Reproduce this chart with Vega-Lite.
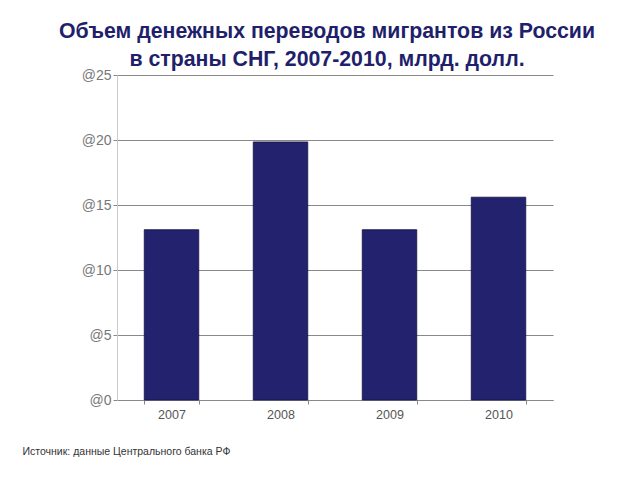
{
  "$schema": "https://vega.github.io/schema/vega-lite/v6.json",
  "width": 436,
  "height": 325,
  "autosize": {"type": "none"},
  "padding": {"left": 117, "top": 75, "right": 87, "bottom": 80},
  "background": "white",
  "title": {
    "text": ["Объем денежных переводов мигрантов из России", "в страны СНГ, 2007-2010, млрд. долл."],
    "font": "Liberation Sans",
    "fontSize": 21.3,
    "fontWeight": "bold",
    "color": "#1f1f6b",
    "lineHeight": 28,
    "anchor": "middle",
    "frame": "group",
    "dx": -8,
    "offset": -2
  },
  "data": {
    "values": [
      {"year": "2007", "value": 13.1},
      {"year": "2008", "value": 19.85},
      {"year": "2009", "value": 13.1},
      {"year": "2010", "value": 15.6}
    ]
  },
  "mark": {"type": "bar", "color": "#22226e", "stroke": "#111144", "strokeWidth": 0.8},
  "encoding": {
    "x": {
      "field": "year",
      "type": "nominal",
      "sort": null,
      "scale": {"paddingInner": 0.5, "paddingOuter": 0.25},
      "axis": {
        "title": "Источник: данные Центрального банка РФ",
        "titleFont": "Liberation Sans",
        "titleFontSize": 10.5,
        "titleFontWeight": "normal",
        "titleColor": "#333333",
        "titleAnchor": "start",
        "titleAlign": "left",
        "titleBaseline": "bottom",
        "titleX": -95,
        "titleY": 56,
        "labelAngle": 0,
        "labelFont": "Liberation Sans",
        "labelFontSize": 12.5,
        "labelColor": "#555555",
        "labelPadding": 4,
        "domainColor": "#888888",
        "tickColor": "#888888",
        "tickBand": "extent",
        "tickSize": 4,
        "grid": false
      }
    },
    "y": {
      "field": "value",
      "type": "quantitative",
      "scale": {"domain": [0, 25]},
      "axis": {
        "title": null,
        "values": [0, 5, 10, 15, 20, 25],
        "labelExpr": "'@' + datum.value",
        "labelFont": "Liberation Sans",
        "labelFontSize": 14,
        "labelColor": "#777777",
        "labelPadding": 2,
        "tickSize": 4,
        "tickColor": "#888888",
        "domainColor": "#cccccc",
        "grid": true,
        "gridColor": "#888888",
        "gridWidth": 1
      }
    }
  },
  "config": {
    "view": {"stroke": null}
  }
}
